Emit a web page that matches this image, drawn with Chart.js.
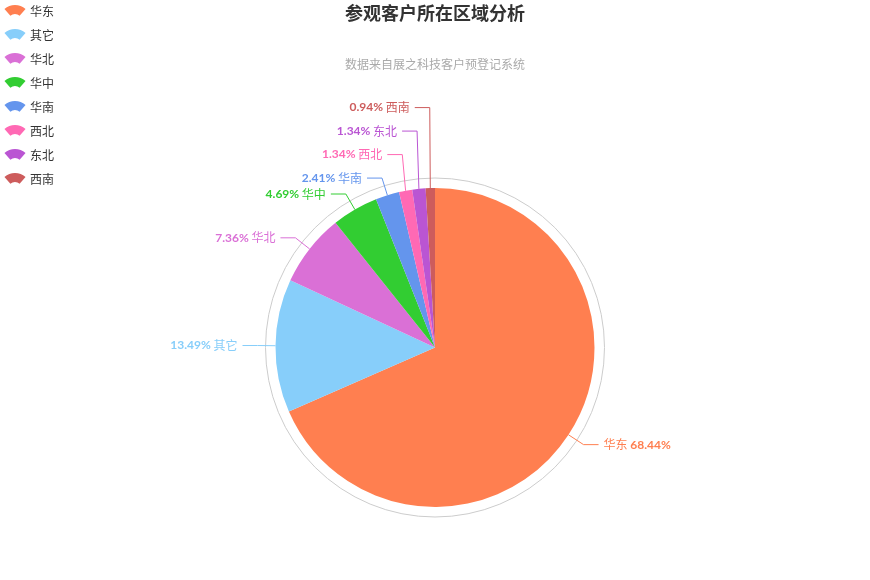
<!DOCTYPE html>
<html>
<head>
<meta charset="utf-8">
<script src="https://cdn.jsdelivr.net/npm/chart.js@4.4.0/dist/chart.umd.min.js"></script>
<style>
  html, body { margin: 0; padding: 0; background: #fff; }
  #wrap { width: 870px; height: 580px; }
</style>
</head>
<body>
<div id="wrap"><canvas id="c" width="870" height="580"></canvas></div>
<script>
const categories = ['华东', '其它', '华北', '华中', '华南', '西北', '东北', '西南'];
const values = [68.44, 13.49, 7.36, 4.69, 2.41, 1.34, 1.34, 0.94];
const colors = ['#ff7f50', '#87cefa', '#da70d6', '#32cd32', '#6495ed', '#ff69b4', '#ba55d3', '#cd5c5c'];
const titleText = '参观客户所在区域分析';
const subtitleText = '数据来自展之科技客户预登记系统';

const FONT = '"Noto Sans CJK SC", "Microsoft YaHei", sans-serif';
const NUMFONT = 'Lato, "Noto Sans CJK SC", sans-serif';

const decorPlugin = {
  id: 'decor',
  beforeDatasetsDraw(chart) {
    const ctx = chart.ctx;
    const arc = chart.getDatasetMeta(0).data[0];
    if (!arc) return;
    ctx.save();
    ctx.beginPath();
    ctx.arc(arc.x, arc.y, arc.outerRadius + 10, 0, Math.PI * 2);
    ctx.strokeStyle = '#cccccc';
    ctx.lineWidth = 1;
    ctx.stroke();
    ctx.restore();
  },
  afterDraw(chart) {
    const ctx = chart.ctx;
    const meta = chart.getDatasetMeta(0);
    ctx.save();
    // Title
    ctx.textAlign = 'center';
    ctx.textBaseline = 'middle';
    ctx.fillStyle = '#333333';
    ctx.font = 'bold 18px ' + FONT;
    ctx.fillText(titleText, chart.width / 2, 13);
    ctx.fillStyle = '#aaaaaa';
    ctx.font = '12px ' + FONT;
    ctx.fillText(subtitleText, chart.width / 2, 64);

    // Legend
    categories.forEach((name, i) => {
      const y = 11 + i * 24;
      const cx = 15, cy = y + 10;
      ctx.beginPath();
      ctx.arc(cx, cy, 16, -Math.PI / 2 - 0.72, -Math.PI / 2 + 0.72);
      ctx.arc(cx, cy, 7, -Math.PI / 2 + 0.72, -Math.PI / 2 - 0.72, true);
      ctx.closePath();
      ctx.fillStyle = colors[i];
      ctx.fill();
      ctx.fillStyle = '#333333';
      ctx.font = '12px ' + FONT;
      ctx.textAlign = 'left';
      ctx.textBaseline = 'middle';
      ctx.fillText(name, 30, y);
    });

    // Labels with leader lines
    const L1 = 18, L2 = 15, GAP = 5, MINGAP = 14, SPACING = 23.5;
    const items = meta.data.map((arc, i) => {
      const mid = (arc.startAngle + arc.endAngle) / 2;
      const cos = Math.cos(mid), sin = Math.sin(mid);
      const r = arc.outerRadius;
      return {
        i,
        right: cos >= 0,
        x0: arc.x + r * cos, y0: arc.y + r * sin,
        x1: arc.x + (r + L1) * cos, y1: arc.y + (r + L1) * sin
      };
    });
    // resolve overlaps per side (push upward from bottom)
    [true, false].forEach(side => {
      const list = items.filter(it => it.right === side).sort((a, b) => b.y1 - a.y1);
      for (let k = 1; k < list.length; k++) {
        if (list[k].y1 > list[k - 1].y1 - MINGAP) list[k].y1 = list[k - 1].y1 - SPACING;
      }
    });
    items.forEach(it => {
      const col = colors[it.i];
      const x2 = it.right ? it.x1 + L2 : it.x1 - L2;
      ctx.beginPath();
      ctx.moveTo(it.x0, it.y0);
      ctx.lineTo(it.x1, it.y1);
      ctx.lineTo(x2, it.y1);
      ctx.strokeStyle = col;
      ctx.lineWidth = 1;
      ctx.stroke();

      const pct = values[it.i].toFixed(2) + '%';
      const name = categories[it.i];
      ctx.fillStyle = col;
      ctx.textBaseline = 'middle';
      const boldF = 'bold 12px ' + NUMFONT, normF = '12px ' + FONT;
      if (it.right) {
        let x = x2 + GAP;
        ctx.textAlign = 'left';
        ctx.font = normF;
        ctx.fillText(name + ' ', x, it.y1);
        x += ctx.measureText(name + ' ').width;
        ctx.font = boldF;
        ctx.fillText(pct, x, it.y1);
      } else {
        let x = x2 - GAP;
        ctx.textAlign = 'right';
        ctx.font = normF;
        ctx.fillText(' ' + name, x, it.y1);
        x -= ctx.measureText(' ' + name).width;
        ctx.font = boldF;
        ctx.fillText(pct, x, it.y1);
      }
    });
    ctx.restore();
  }
};

new Chart(document.getElementById('c'), {
  type: 'pie',
  data: {
    labels: categories,
    datasets: [{
      data: values,
      backgroundColor: colors,
      borderWidth: 0,
      hoverOffset: 0
    }]
  },
  options: {
    responsive: false,
    animation: false,
    events: [],
    layout: { padding: { left: 275, right: 275, top: 188, bottom: 73 } },
    plugins: {
      legend: { display: false },
      title: { display: false },
      tooltip: { enabled: false }
    }
  },
  plugins: [decorPlugin]
});
</script>
</body>
</html>
